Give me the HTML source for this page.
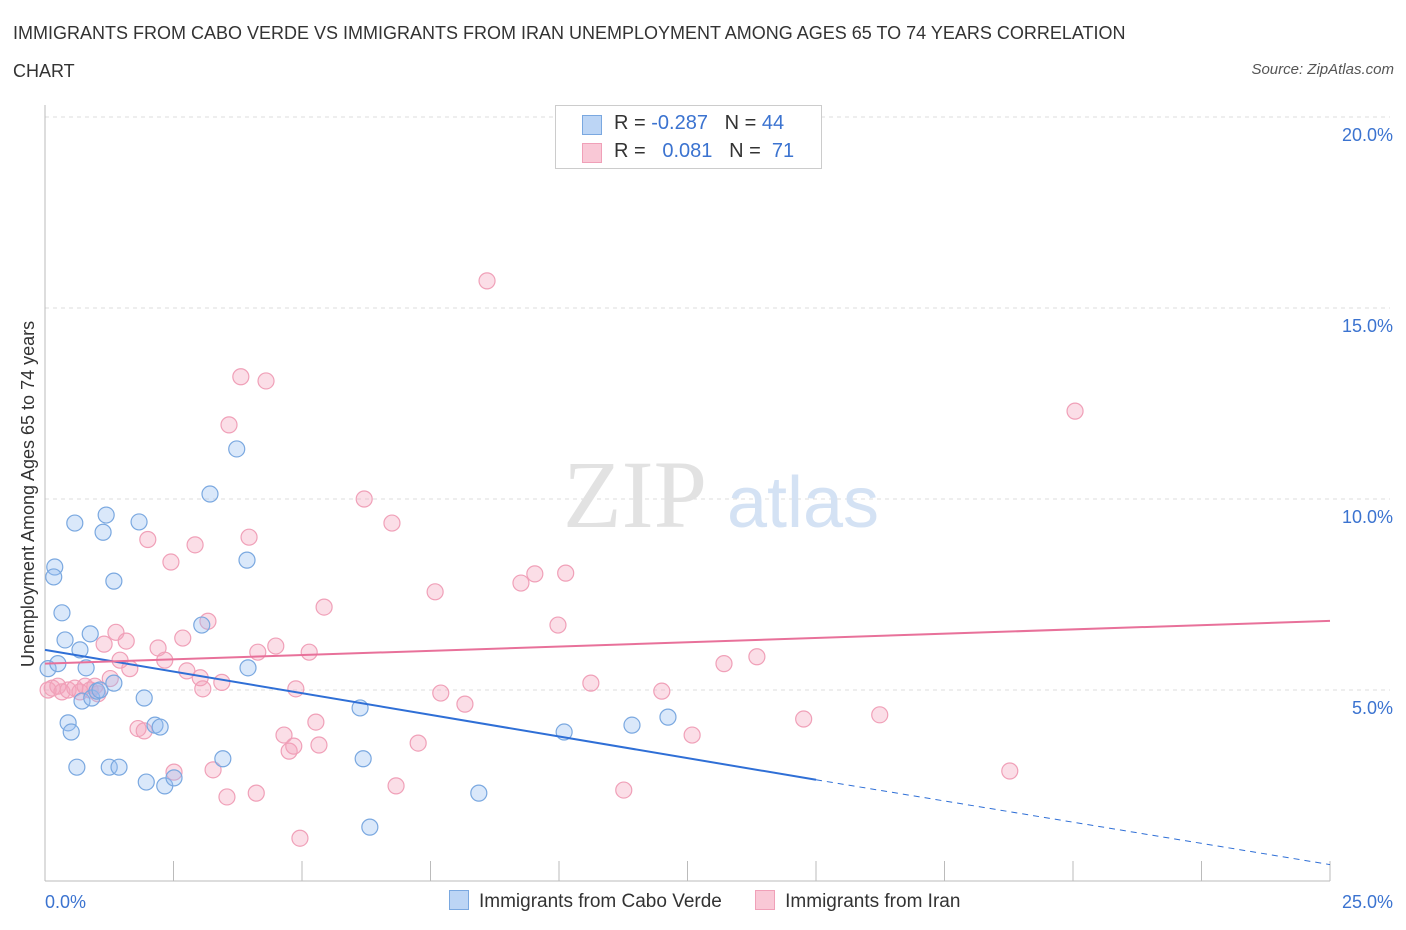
<!DOCTYPE html>
<html><head><meta charset="utf-8">
<style>
body{margin:0;background:#fff;font-family:"Liberation Sans",sans-serif;}
#wrap{position:relative;width:1406px;height:930px;overflow:hidden;}
.t{position:absolute;}
</style></head>
<body>
<div id="wrap">
<div class="t" style="left:13px;top:14px;font-size:18px;color:#333;line-height:38px;width:1160px;">IMMIGRANTS FROM CABO VERDE VS IMMIGRANTS FROM IRAN UNEMPLOYMENT AMONG AGES 65 TO 74 YEARS CORRELATION CHART</div>
<div class="t" style="right:12px;top:61px;font-size:15px;color:#555;font-style:italic;">Source: ZipAtlas.com</div>
<svg id="svg" width="1406" height="930" style="position:absolute;left:0;top:0"></svg>
</div>
<script>
const blueX=[0.06,0.25,0.19,0.17,0.33,0.39,0.45,0.51,0.58,0.62,0.68,0.72,0.8,0.88,0.91,1.01,1.07,1.13,1.19,1.25,1.34,1.44,1.34,1.83,1.93,1.97,2.14,2.24,2.33,2.51,3.05,3.21,3.46,3.73,3.93,3.95,6.13,6.19,6.32,8.44,10.1,11.42,12.12];
const blueY=[5.56,5.69,8.22,7.96,7.02,6.31,4.14,3.9,9.37,2.98,6.05,4.71,5.58,6.47,4.79,4.97,5.0,9.13,9.58,2.98,5.18,2.98,7.85,9.4,4.79,2.59,4.08,4.03,2.49,2.7,6.7,10.13,3.2,11.31,8.4,5.58,4.53,3.2,1.41,2.3,3.9,4.08,4.29];
const pinkX=[0.06,0.14,0.25,0.33,0.45,0.58,0.68,0.78,0.88,0.97,1.03,1.15,1.27,1.38,1.46,1.58,1.65,1.81,1.93,2.0,2.2,2.33,2.45,2.51,2.68,2.76,2.92,3.02,3.07,3.17,3.27,3.44,3.54,3.58,3.81,3.97,4.11,4.14,4.3,4.49,4.65,4.75,4.84,4.88,5.14,5.27,5.33,5.43,6.21,6.75,6.83,7.26,7.59,7.7,8.17,8.6,9.26,9.53,9.98,10.13,10.62,11.26,12.0,12.59,13.21,13.85,14.76,16.24,18.77,20.04,4.96];
const pinkY=[5.0,5.05,5.1,4.95,5.0,5.05,4.95,5.1,5.0,5.1,4.9,6.2,5.3,6.51,5.78,6.28,5.56,3.99,3.93,8.94,6.1,5.78,8.35,2.85,6.36,5.5,8.8,5.32,5.03,6.8,2.91,5.2,2.2,11.94,13.2,9.0,2.3,5.99,13.09,6.15,3.82,3.4,3.53,5.03,5.99,4.16,3.56,7.17,10.0,9.37,2.49,3.61,7.57,4.92,4.63,15.71,7.8,8.04,6.7,8.06,5.18,2.38,4.97,3.82,5.69,5.87,4.24,4.35,2.88,12.3,1.12];
const blueTrend=[[0,6.05],[15,2.65],[25,0.43]];
const pinkTrend=[[0,5.69],[25,6.81]];
const yTicks=[5,10,15,20];
const X0=45,X1=1330,YB=881,YT=117;
const sx=v=>X0+(X1-X0)*v/25, sy=v=>YB-(YB-YT)*v/20;
const svg=document.getElementById('svg');const NS='http://www.w3.org/2000/svg';
function mk(tag,attrs,parent){const e=document.createElementNS(NS,tag);for(const k in attrs)e.setAttribute(k,attrs[k]);(parent||svg).appendChild(e);return e;}
yTicks.forEach(v=>{
 const l=mk('line',{x1:X0,x2:X1+60,y1:sy(v),y2:sy(v),stroke:'#ddd','stroke-dasharray':'4,4'});
 
 
 const t=mk('text',{x:1393,y:sy(v)+24,'text-anchor':'end','font-size':18,fill:'#3b73d0'});
 t.textContent=v.toFixed(1)+'%';
 
 
});
mk('line',{x1:X0,x2:X0,y1:105,y2:YB,stroke:'#bbb'});
mk('line',{x1:X0,x2:X1,y1:YB,y2:YB,stroke:'#bbb'});
for(let i=0;i<=10;i++){const x=sx(i*2.5);const l=mk('line',{x1:x,x2:x,y1:YB,y2:YB-20,stroke:'#bbb'});
 
 }
const xl=mk('text',{x:45,y:908,'font-size':18,fill:'#3b73d0'});xl.textContent='0.0%';


const xr=mk('text',{x:1393,y:908,'text-anchor':'end','font-size':18,fill:'#3b73d0'});xr.textContent='25.0%';


const yt=mk('text',{x:34,y:494,'text-anchor':'middle','font-size':18,fill:'#333',transform:'rotate(-90 34 494)'});yt.textContent='Unemployment Among Ages 65 to 74 years';


const w1=mk('text',{x:635,y:527,'text-anchor':'middle','font-size':96,fill:'#e2e2e2','font-family':'Liberation Serif'});w1.textContent='ZIP';


const w2=mk('text',{x:803,y:527,'text-anchor':'middle','font-size':72,fill:'#d4e2f4'});w2.textContent='atlas';


pinkX.forEach((x,i)=>{const c=mk('circle',{cx:sx(x),cy:sy(pinkY[i]),r:8,fill:'rgba(244,160,185,0.35)',stroke:'#f0a0b8','stroke-width':1.2});
 
 });
blueX.forEach((x,i)=>{const c=mk('circle',{cx:sx(x),cy:sy(blueY[i]),r:8,fill:'rgba(150,190,240,0.35)',stroke:'#7aa8e0','stroke-width':1.2});
 
 });
const bt1=mk('line',{x1:sx(blueTrend[0][0]),y1:sy(blueTrend[0][1]),x2:sx(blueTrend[1][0]),y2:sy(blueTrend[1][1]),stroke:'#2f6fd6','stroke-width':2});


const bt2=mk('line',{x1:sx(blueTrend[1][0]),y1:sy(blueTrend[1][1]),x2:sx(blueTrend[2][0]),y2:sy(blueTrend[2][1]),stroke:'#2f6fd6','stroke-width':1,'stroke-dasharray':'6,5'});


const pt=mk('line',{x1:sx(pinkTrend[0][0]),y1:sy(pinkTrend[0][1]),x2:sx(pinkTrend[1][0]),y2:sy(pinkTrend[1][1]),stroke:'#e8719a','stroke-width':2});


</script>
<div class="t" style="left:555px;top:105px;width:265px;height:62px;border:1px solid #ccc;background:#fff;font-size:20px;color:#333;">
 <div style="position:absolute;left:26px;top:9px;width:18px;height:18px;background:#bcd5f5;border:1px solid #7aa8e0"></div>
 <div style="position:absolute;left:58px;top:6px;white-space:pre">R = <span style="color:#3b73d0">-0.287</span>   N = <span style="color:#3b73d0">44</span></div>
 <div style="position:absolute;left:26px;top:37px;width:18px;height:18px;background:#f9c8d6;border:1px solid #f0a0b8"></div>
 <div style="position:absolute;left:58px;top:34px;white-space:pre">R =  <span style="color:#3b73d0"> 0.081</span>   N =  <span style="color:#3b73d0">71</span></div>
</div>
<div class="t" style="left:449px;top:890px;font-size:19px;color:#333;white-space:nowrap;">
 <span><span style="display:inline-block;width:18px;height:18px;background:#bcd5f5;border:1px solid #7aa8e0;vertical-align:-3px;margin-right:10px"></span>Immigrants from Cabo Verde</span>
 <span style="margin-left:28px"><span style="display:inline-block;width:18px;height:18px;background:#f9c8d6;border:1px solid #f0a0b8;vertical-align:-3px;margin-right:10px"></span>Immigrants from Iran</span>
</div>
</body></html>
